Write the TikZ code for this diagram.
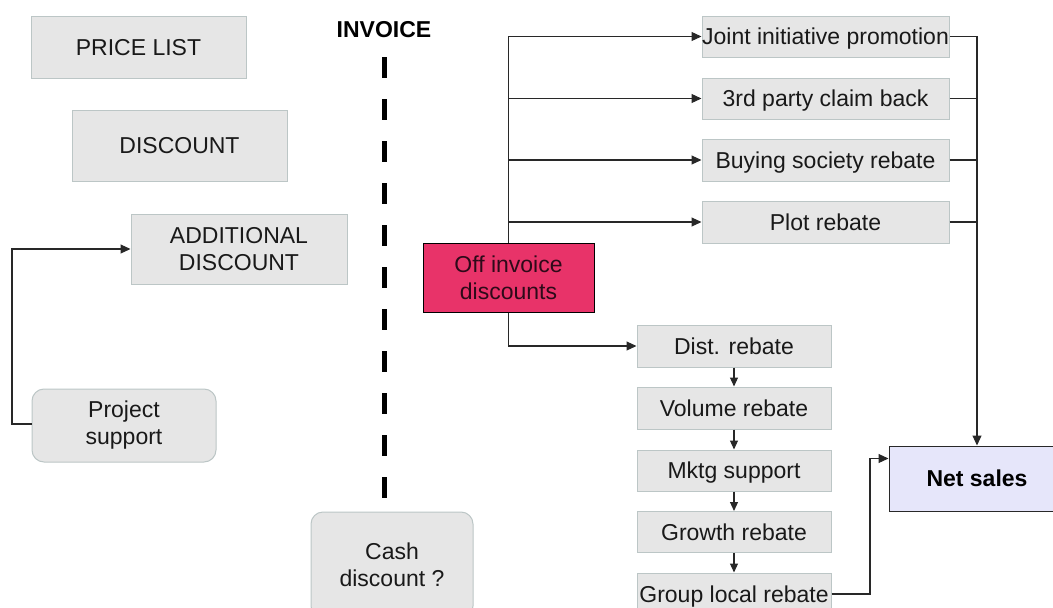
\documentclass[tikz,border=0pt]{standalone}
\usepackage{fontspec}
\setmainfont{Liberation Sans}
\usetikzlibrary{arrows.meta,calc}
\definecolor{boxfill}{RGB}{230,230,230}
\definecolor{boxline}{RGB}{188,198,198}
\definecolor{offfill}{RGB}{232,51,105}
\definecolor{netfill}{RGB}{230,230,250}
\definecolor{txt}{RGB}{25,25,25}
\definecolor{lin}{RGB}{40,40,40}
\tikzset{
  gbox/.style={draw=boxline, line width=1pt, fill=boxfill, inner sep=0pt, align=center, text=txt,
    font=\fontsize{23}{27}\selectfont},
  one/.style={text height=16.5pt, text depth=0pt},
  rbox/.style={gbox, rounded corners=12pt},
  conn/.style={draw=lin, line width=1.1pt},
  arr/.style={conn, -{Triangle[length=10pt,width=9pt]}},
  sarr/.style={conn, -{Triangle[length=9pt,width=8pt]}},
}
\begin{document}
\begin{tikzpicture}[x=1pt,y=-1pt]
\useasboundingbox (0,0) rectangle (1053,608);
\clip (0,0) rectangle (1053,608);
% left boxes
\node[gbox, one, minimum width=215pt, minimum height=62pt] (price) at (138.5,47) {PRICE LIST};
\node[gbox, one, minimum width=215pt, minimum height=71pt] (disc) at (179.5,145.5) {DISCOUNT};
\node[gbox, minimum width=216pt, minimum height=70pt] (add) at (239,249) {ADDITIONAL\\DISCOUNT};
\node[rbox, minimum width=184pt, minimum height=73pt] (proj) at (124,425.5) {Project\\support};
\node[rbox, minimum width=162pt, minimum height=106pt] (cash) at (392,565) {Cash\\discount ?};
% invoice line
\node[font=\fontsize{23}{27}\selectfont\bfseries, text=black, one] (inv) at (384,29) {INVOICE};
\coordinate (dtop) at (384,57);
\coordinate (dbot) at (384,498);
\draw[line width=5pt, black, dash pattern=on 21pt off 21pt] (dtop) -- (dbot);
% off invoice
\node[gbox, draw=black, fill=offfill, text={rgb,255:red,45;green,10;blue,25}, minimum width=171pt, minimum height=69pt] (off) at (508.5,277.5) {Off invoice\\discounts};
% top right boxes
\node[gbox, one, minimum width=247pt, minimum height=41pt] (joint) at (825.5,36.5) {Joint initiative promotion};
\node[gbox, one, minimum width=247pt, minimum height=41pt] (third) at (825.5,98.5) {3rd party claim back};
\node[gbox, one, minimum width=247pt, minimum height=42pt] (buy) at (825.5,160) {Buying society rebate};
\node[gbox, one, minimum width=247pt, minimum height=42pt] (plot) at (825.5,222) {Plot rebate};
% chain
\node[gbox, one, minimum width=194pt, minimum height=42pt] (dist) at (734,346) {Dist. rebate};
\node[gbox, one, minimum width=194pt, minimum height=42pt] (vol) at (734,408) {Volume rebate};
\node[gbox, one, minimum width=194pt, minimum height=41pt] (mktg) at (734,470.5) {Mktg support};
\node[gbox, one, minimum width=194pt, minimum height=41pt] (grow) at (734,532) {Growth rebate};
\node[gbox, one, minimum width=194pt, minimum height=42pt] (group) at (734,594) {Group local rebate};
% net sales
\node[gbox, one, draw=lin, fill=netfill, font=\fontsize{23}{27}\selectfont\bfseries, text=black, minimum width=176pt, minimum height=65pt] (net) at (977,478.5) {Net sales};
% connectors
\coordinate (pl) at (12,424);
\draw[arr] (proj.west |- pl) -- (pl) |- (add.west);
\draw[arr] (off.north) |- (joint.west);
\draw[arr] (off.north |- third.west) -- (third.west);
\draw[arr] (off.north |- buy.west) -- (buy.west);
\draw[arr] (off.north |- plot.west) -- (plot.west);
\draw[arr] (off.south) |- (dist.west);
\draw[sarr] (dist.south) -- (vol.north);
\draw[sarr] (vol.south) -- (mktg.north);
\draw[sarr] (mktg.south) -- (grow.north);
\draw[sarr] (grow.south) -- (group.north);
\draw[arr] (joint.east) -| (net.north);
\draw[conn] (third.east) -- (third.east -| net.north);
\draw[conn] (buy.east) -- (buy.east -| net.north);
\draw[conn] (plot.east) -- (plot.east -| net.north);
\coordinate (bend) at (870,0);
\coordinate (netin) at ([yshift=-13pt]net.north west);
\draw[arr] (group.east) -| (bend |- netin) -- (netin);
\end{tikzpicture}
\end{document}
